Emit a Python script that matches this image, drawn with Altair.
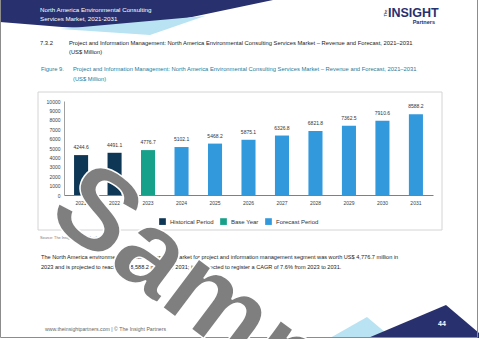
import altair as alt
import pandas as pd

# ---------------- data ----------------
years = ["2021", "2022", "2023", "2024", "2025", "2026", "2027", "2028", "2029", "2030", "2031"]
values = [4244.6, 4491.1, 4776.7, 5102.1, 5468.2, 5875.1, 6326.8, 6821.8, 7362.5, 7910.6, 8588.2]
value_labels = ["4244.6", "4491.1", "4776.7", "5102.1", "5468.2", "5875.1",
                "6326.8", "6821.8", "7362.5", "7910.6", "8588.2"]
periods = ["Historical Period", "Historical Period", "Base Year"] + ["Forecast Period"] * 8
legend_order = ["Historical Period", "Base Year", "Forecast Period"]
period_colors = ["#0e3756", "#17a08a", "#3399dd"]
y_ticks = [0, 1000, 2000, 3000, 4000, 5000, 6000, 7000, 8000, 9000, 10000]

df = pd.DataFrame({"year": years, "value": values, "period": periods, "label": value_labels})

title_text = ("Project and Information Management: North America Environmental Consulting "
              "Services Market \u2013 Revenue and Forecast, 2021\u20132031")
para1 = ("The North America environmental consulting services market for project and information "
         "management segment was worth US$ 4,776.7 million in")
para2 = ("2023 and is projected to reach US$ 8,588.2 million by 2031; it is expected to register "
         "a CAGR of 7.6% from 2023 to 2031.")

# ---------------- page geometry ----------------
OX, OY = 64, 101      # plot origin on the page
W, H = 369, 94        # plot area
FONT = "Liberation Sans"

one = pd.DataFrame({"k": [0]})


def px(x):
    return x - OX


def py(y):
    return y - OY


def deco_text(text, x, y, size, color="#222222", font=FONT,
              weight="normal", align="left", baseline="middle", angle=0):
    return alt.Chart(pd.DataFrame({"t": [text]})).mark_text(
        align=align, baseline=baseline, fontSize=size, font=font,
        fontWeight=weight, color=color, angle=angle
    ).encode(x=alt.value(px(x)), y=alt.value(py(y)), text="t:N")


def deco_poly(points, color):
    path = "M" + "L".join(f"{a},{b}" for a, b in points) + "Z"
    return alt.Chart(one).mark_point(
        shape=path, size=4, filled=True, color=color, opacity=1, strokeWidth=0
    ).encode(x=alt.value(px(0)), y=alt.value(py(0)))


def deco_rect(x1, y1, x2, y2, stroke="#d4d4d4", fill="transparent", sw=1):
    return alt.Chart(one).mark_rect(fill=fill, stroke=stroke, strokeWidth=sw).encode(
        x=alt.value(px(x1)), x2=alt.value(px(x2)), y=alt.value(py(y1)), y2=alt.value(py(y2)))


# ---------------- page decorations ----------------
header_blue = deco_poly([(0, 0), (273, 0), (130, 30), (62, 27), (0, 22)], "#28306e")
header_light = deco_poly([(60, 29), (205, 16), (150, 35)], "#b9e3f2")
footer_light = deco_poly([(330, 338), (367, 317), (392, 338)], "#b9e3f2")
footer_blue = deco_poly([(368, 338), (446, 305), (479, 333), (479, 338)], "#28306e")
chart_box = deco_rect(38, 92, 442, 230)
page_border = deco_rect(0.5, -2, 477.5, 337.5, stroke="#8c8c8c")

texts = [
    deco_text("North America Environmental Consulting", 40, 10, 6.2, color="white"),
    deco_text("Services Market, 2021-2031", 40, 19, 6.2, color="white"),
    deco_text("INSIGHT", 388, 13, 12.5, color="#28306e", weight="bold"),
    deco_text("The", 386, 13, 4, color="#28306e", weight="bold", align="center", angle=270),
    deco_text("Partners", 435, 22, 5.5, color="#28306e", weight="bold", align="right"),
    deco_text("7.3.2", 40, 43, 5.8),
    deco_text(title_text, 69, 43, 5.8),
    deco_text("(US$ Million)", 69, 52, 5.8),
    deco_text("Figure 9.", 41, 69, 5.8, color="#1f7a99"),
    deco_text(title_text, 73, 69, 5.8, color="#1f7a99"),
    deco_text("(US$ Million)", 73, 79, 5.8, color="#1f7a99"),
    deco_text("Source: The Insight Partners Analysis", 40, 238, 3.8, color="#777777"),
    deco_text(para1, 41, 257, 5.6),
    deco_text(para2, 41, 267, 5.6),
    deco_text("www.theinsightpartners.com  |  \u00a9 The Insight Partners", 45, 329, 5.2,
              color="#666666"),
    deco_text("44", 442, 324, 7, color="white", weight="bold", align="center"),
]

# ---------------- chart ----------------
x_axis = alt.Axis(title=None, labelAngle=0, labelFontSize=5, labelColor="#404040",
                  domainColor="#808080", ticks=False, labelPadding=5, labelFont=FONT)
y_axis = alt.Axis(values=y_ticks, format="d", title=None, grid=False, ticks=False,
                  labelFontSize=5, labelColor="#404040", domainColor="#a0a0a0",
                  labelPadding=4, labelFont=FONT, labelOverlap=False)
x_scale = alt.Scale(paddingInner=0.58, paddingOuter=0.3)
y_scale = alt.Scale(domain=[0, 10000])

base = alt.Chart(df)

bars = base.mark_bar().encode(
    x=alt.X("year:N", sort=years, scale=x_scale, axis=x_axis),
    y=alt.Y("value:Q", scale=y_scale, axis=y_axis),
    color=alt.Color("period:N", scale=alt.Scale(domain=legend_order, range=period_colors),
                    legend=alt.Legend(title=None, orient="none", legendX=95, legendY=117,
                                      direction="horizontal", symbolType="square",
                                      symbolSize=45, labelFontSize=6, labelFont=FONT,
                                      labelColor="#333333", columnPadding=6, padding=0,
                                      symbolStrokeWidth=0)),
)

labels = base.mark_text(dy=-5, fontSize=5, font=FONT, color="#333333",
                        baseline="bottom").encode(
    x=alt.X("year:N", sort=years, scale=x_scale, axis=x_axis),
    y=alt.Y("value:Q", scale=y_scale, axis=y_axis),
    text="label:N",
)

watermark = alt.Chart(pd.DataFrame({"t": ["Sample"]})).mark_text(
    align="left", baseline="alphabetic", fontSize=115, font=FONT, fontWeight="bold",
    angle=37, color="#7f7f7f", stroke="white", strokeWidth=1.5
).encode(x=alt.value(px(44)), y=alt.value(py(218)), text="t:N")

chart = alt.layer(
    header_blue, header_light, footer_light, footer_blue, chart_box, page_border,
    bars, labels, *texts, watermark
).properties(
    width=W, height=H,
    autosize=alt.AutoSizeParams(type="none"),
    padding={"left": OX, "top": OY, "right": 480 - OX - W, "bottom": 339 - OY - H},
    background="white",
).configure_view(stroke=None).configure_axis(labelOverlap=False)

chart.save("out.html", embed_options={"renderer": "svg", "actions": False})
